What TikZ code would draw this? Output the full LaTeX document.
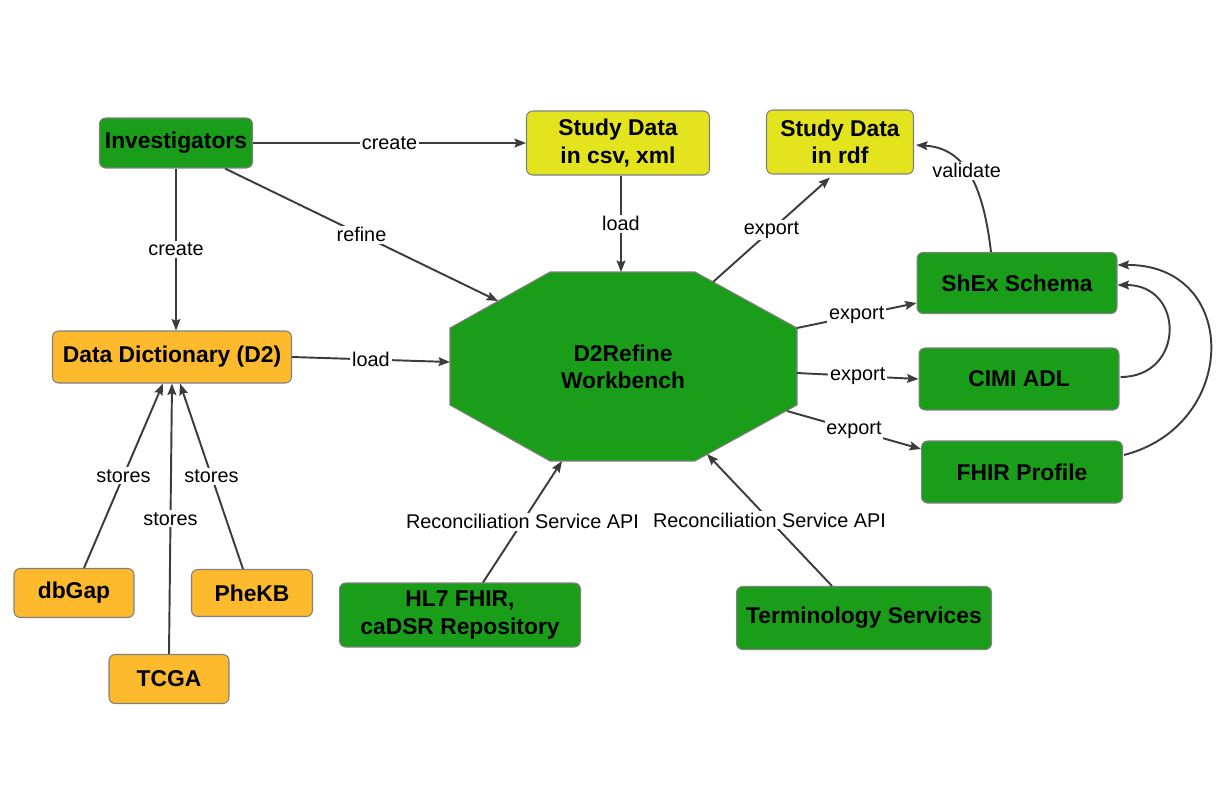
\documentclass[tikz,border=0pt]{standalone}
\usepackage{fontspec}
\setmainfont{Liberation Sans}
\usepackage{tikz}
\usetikzlibrary{calc,arrows.meta}
\definecolor{boxgreen}{HTML}{1A9E1A}
\definecolor{boxyellow}{HTML}{E3E31E}
\definecolor{boxorange}{HTML}{FDBA2C}
\definecolor{boxline}{HTML}{808080}
\definecolor{edge}{HTML}{3C3C3C}
\tikzset{
  box/.style={draw=boxline, line width=0.6pt, rounded corners=3.5pt, align=center,
    inner sep=2pt, font=\fontsize{13}{15.5}\selectfont\bfseries},
  gbox/.style={box, fill=boxgreen},
  ybox/.style={box, fill=boxyellow},
  obox/.style={box, fill=boxorange},
  conn/.style={draw=edge, line width=1.1pt, -{Stealth[length=6.5pt,width=5pt,inset=1pt]}},
  lbl/.style={fill=white, inner sep=1pt, font=\fontsize{11.3}{13}\selectfont},
}

\begin{document}
\begin{tikzpicture}[x=0.02cm,y=-0.02cm]
  \useasboundingbox (0,0) rectangle (1231,788);
  % boxes
  \node[gbox, minimum width=3.06cm, minimum height=1.0cm] (inv) at (176,143) {Investigators};
  \node[ybox, minimum width=3.66cm, minimum height=1.28cm] (csv) at (618,143) {Study Data\\in csv, xml};
  \node[ybox, minimum width=2.94cm, minimum height=1.28cm] (rdf) at (840,142) {Study Data\\in rdf};
  \node[gbox, minimum width=4.0cm, minimum height=1.22cm] (shex) at (1017,283) {ShEx Schema};
  \node[gbox, minimum width=4.0cm, minimum height=1.24cm] (cimi) at (1019,379) {CIMI ADL};
  \node[gbox, minimum width=4.02cm, minimum height=1.24cm] (fhir) at (1022,472) {FHIR Profile};
  \node[obox, minimum width=4.78cm, minimum height=1.04cm] (dd) at (172,357) {Data Dictionary (D2)};
  \node[obox, minimum width=2.4cm, minimum height=0.98cm] (dbgap) at (74,593) {dbGap};
  \node[obox, minimum width=2.42cm, minimum height=0.94cm] (phekb) at (252,593) {PheKB};
  \node[obox, minimum width=2.4cm, minimum height=0.98cm] (tcga) at (169,679) {TCGA};
  \node[gbox, minimum width=4.82cm, minimum height=1.28cm] (hl7) at (460,615) {HL7 FHIR,\\caDSR Repository};
  \node[gbox, minimum width=5.1cm, minimum height=1.26cm] (term) at (864,618) {Terminology Services};

  % workbench octagon
  \draw[draw=boxline, line width=0.6pt, fill=boxgreen]
    (550,272) -- (695,272) -- (797,328) -- (797,405) -- (695,461)
    -- (550,461) -- (450,405) -- (450,328) -- cycle;
  \node[font=\fontsize{13}{15.5}\selectfont\bfseries, align=center] (wb) at (623,367) {D2Refine\\Workbench};
  \coordinate (w-refine) at (498,301);
  \coordinate (w-top) at (621,272);
  \coordinate (w-left) at (450,362);
  \coordinate (w-rdf) at (713,282);
  \coordinate (w-shex) at (797,328);
  \coordinate (w-cimi) at (797,373);
  \coordinate (w-fhir) at (787,411);
  \coordinate (w-hl7) at (562,461);
  \coordinate (w-term) at (707,454);

  % connectors
  \draw[conn] (inv.east) -- node[lbl] {create} (csv.west);
  \draw[conn] (inv.south) -- node[lbl] {create} (inv.south |- dd.north);
  \draw[conn] ($(inv.south)+(49,0)$) -- node[lbl] {refine} (w-refine);
  \draw[conn] (csv.south -| w-top) -- node[lbl] {load} (w-top);
  \draw[conn] (dd.east) -- node[lbl] {load} (w-left);
  \draw[conn] (w-rdf) -- node[lbl] {export} ($(rdf.south)+(-10,3)$);
  \draw[conn] (w-shex) -- node[lbl] {export} ($(shex.west)+(0,20)$);
  \draw[conn] (w-cimi) -- node[lbl] {export} (cimi.west);
  \draw[conn] (w-fhir) -- node[lbl] {export} ($(fhir.west)+(0,-23)$);
  \foreach \src/\dx/\tx in {dbgap/10/-9, tcga/0/0, phekb/-9/8}
    \draw[conn] ($(\src.north)+(\dx,0)$) -- node[lbl] {stores} ($(dd.south)+(\tx,0)$);
  \draw[conn] ($(hl7.north)+(23,0)$) -- node[lbl] {Reconciliation Service API} (w-hl7);
  \draw[conn] ($(term.north)+(-32,0)$) -- node[lbl] {Reconciliation Service API} (w-term);

  % schema loops
  \draw[conn] ($(shex.north)+(-26,0)$) .. controls (982,175) and (960,148) ..
    node[lbl, pos=0.5] {validate} ($(rdf.east)+(2,3)$);
  \draw[conn] ($(cimi.east)+(1,-2)$) .. controls (1185,377) and (1185,285) .. ($(shex.east)+(0,2)$);
  \draw[conn] ($(fhir.east)+(1,-17)$) .. controls (1240,425) and (1240,264) .. ($(shex.east)+(0,-18)$);
\end{tikzpicture}
\end{document}
